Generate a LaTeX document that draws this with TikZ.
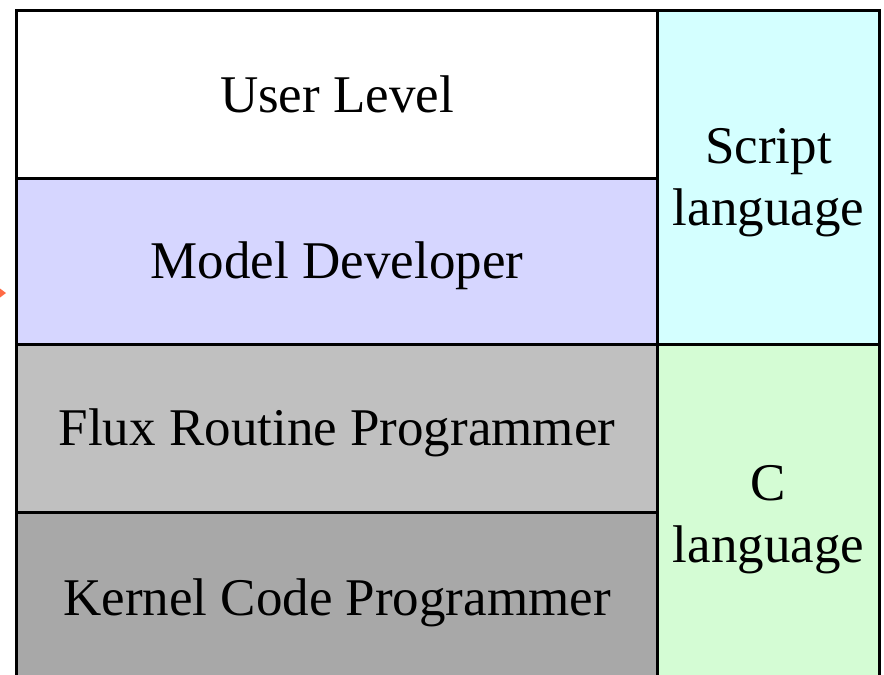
\documentclass[tikz,border=0pt]{standalone}
\usepackage{fontspec}
\setmainfont{Liberation Serif}
\definecolor{lavender}{HTML}{D6D6FF}
\definecolor{lightgrey}{HTML}{C0C0C0}
\definecolor{midgrey}{HTML}{A8A8A8}
\definecolor{lightcyan}{HTML}{D4FFFF}
\definecolor{lightgreen}{HTML}{D4FCD4}
\definecolor{arroworange}{HTML}{FF6A45}
\newcommand{\tallstrut}{\rule{0pt}{45pt}}
\begin{document}
\begin{tikzpicture}[x=1pt,y=-1pt,
  cell/.style={draw=black, line width=3pt, anchor=north west, inner sep=0pt,
    align=center, font=\fontsize{53}{62}\selectfont},
  ]
\useasboundingbox (0,0) rectangle (884,675);
\clip (0,0) rectangle (884,675);
% left column: user roles
\node[cell, fill=white, minimum width=641pt, minimum height=168pt] (user) at (15,9) {User Level};
\node[cell, fill=lavender, minimum width=641pt, minimum height=166pt] (model) at (15,177) {\tallstrut Model Developer};
\node[cell, fill=lightgrey, minimum width=641pt, minimum height=168pt] (flux) at (15,343) {\tallstrut Flux Routine Programmer};
\node[cell, fill=midgrey, minimum width=641pt, minimum height=172pt] (kernel) at (15,511) {\tallstrut Kernel Code Programmer};
% right column: languages
\node[cell, fill=lightcyan, minimum width=222pt, minimum height=334pt] (script) at (656,9) {\tallstrut Script\\language};
\node[cell, fill=lightgreen, minimum width=222pt, minimum height=340pt] (clang) at (656,343) {\tallstrut C\\language};
% arrow tip at the left edge
\fill[arroworange] (-2,287) -- (6,293) -- (-2,299) -- cycle;
\end{tikzpicture}
\end{document}
